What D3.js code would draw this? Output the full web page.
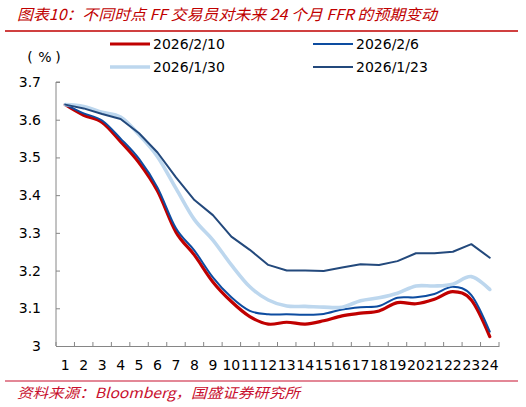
<!DOCTYPE html>
<html>
<head>
<meta charset="utf-8">
<script src="https://cdn.jsdelivr.net/npm/d3@7"></script>
<style>
  body { margin: 0; background: #fff; }
  svg { display: block; }
</style>
</head>
<body>
<div id="chart"></div>
<script>
// months ahead
const months = d3.range(1, 25);

// series values
const s0210 = [3.64, 3.612, 3.593, 3.542, 3.486, 3.411, 3.302, 3.241, 3.170, 3.118, 3.078, 3.058,
               3.063, 3.058, 3.067, 3.080, 3.087, 3.093, 3.115, 3.112, 3.124, 3.144, 3.122, 3.025];
const s0206 = [3.64, 3.617, 3.598, 3.550, 3.496, 3.420, 3.312, 3.253, 3.182, 3.129, 3.093, 3.084,
               3.084, 3.083, 3.085, 3.097, 3.103, 3.106, 3.128, 3.129, 3.138, 3.157, 3.135, 3.038];
const s0130 = [3.64, 3.635, 3.620, 3.607, 3.560, 3.502, 3.418, 3.335, 3.281, 3.215, 3.157, 3.122,
               3.106, 3.105, 3.103, 3.103, 3.120, 3.128, 3.140, 3.159, 3.159, 3.164, 3.184, 3.150];
const s0123 = [3.64, 3.630, 3.615, 3.602, 3.564, 3.513, 3.447, 3.387, 3.347, 3.290, 3.255, 3.215,
               3.200, 3.200, 3.199, 3.208, 3.217, 3.215, 3.225, 3.246, 3.246, 3.250, 3.270, 3.234];

const yTicks = [3, 3.1, 3.2, 3.3, 3.4, 3.5, 3.6, 3.7];

const series = [
  { name: "2026/2/10", values: s0210, color: "#C00000", width: 3.2, smooth: true },
  { name: "2026/2/6",  values: s0206, color: "#0D4CA0", width: 2,   smooth: true },
  { name: "2026/1/30", values: s0130, color: "#BDD7EE", width: 3.6, smooth: true },
  { name: "2026/1/23", values: s0123, color: "#23497C", width: 2,   smooth: false }
];

const W = 526, H = 407;
const svg = d3.select("#chart").append("svg")
  .attr("width", W).attr("height", H);

const font = "'DejaVu Sans', Verdana, sans-serif";
const cjk = "'Noto Sans CJK SC', sans-serif";

// title + rules
svg.append("text")
  .attr("x", 17).attr("y", 20)
  .attr("fill", "#C00000")
  .attr("font-family", cjk)
  .attr("font-size", 15)
  .attr("font-style", "italic")
  .attr("textLength", 420)
  .attr("lengthAdjust", "spacingAndGlyphs")
  .text("图表10：不同时点 FF 交易员对未来 24 个月 FFR 的预期变动");

svg.append("line")
  .attr("x1", 5).attr("x2", 518).attr("y1", 31).attr("y2", 31)
  .attr("stroke", "#C00000").attr("stroke-width", 1.5);

svg.append("line")
  .attr("x1", 5).attr("x2", 518).attr("y1", 381).attr("y2", 381)
  .attr("stroke", "#C8102E").attr("stroke-width", 1.2);

svg.append("text")
  .attr("x", 17).attr("y", 398)
  .attr("fill", "#C8102E")
  .attr("font-family", cjk)
  .attr("font-size", 14)
  .attr("font-style", "italic")
  .attr("textLength", 283)
  .attr("lengthAdjust", "spacingAndGlyphs")
  .text("资料来源：Bloomberg，国盛证券研究所");

// scales
const x = d3.scaleBand().domain(months).range([56, 499]);
const y = d3.scaleLinear().domain([3, 3.7]).range([346, 82]);

// y axis
const yAxis = d3.axisRight(y)
  .tickValues(yTicks)
  .tickSize(4)
  .tickFormat(d3.format("~g"));

const gy = svg.append("g").attr("transform", "translate(56,0)").call(yAxis);
gy.select(".domain").attr("stroke", "#868686").attr("d", "M4,82H0V346");
gy.selectAll(".tick line").attr("stroke", "#868686");
gy.selectAll(".tick text")
  .attr("x", -15).attr("text-anchor", "end")
  .attr("font-family", font).attr("font-size", 14).attr("fill", "#000");

// unit label: full-width brackets spaced apart
svg.append("text")
  .attr("y", 62)
  .attr("font-family", font).attr("font-size", 14)
  .attr("text-anchor", "middle")
  .selectAll("tspan")
  .data([["(", 30], ["%", 45], [")", 58]])
  .join("tspan")
  .attr("x", d => d[1])
  .text(d => d[0]);

// x axis
const xAxis = d3.axisBottom(x).tickSize(0).tickPadding(14);
const gx = svg.append("g").attr("transform", "translate(0,346)").call(xAxis);
gx.select(".domain").attr("stroke", "#868686");
gx.selectAll(".tick text")
  .attr("font-family", font).attr("font-size", 14).attr("fill", "#000");

// tick marks between categories
svg.append("g").selectAll("line")
  .data(months.map(m => x(m)).concat([x.range()[1]]))
  .join("line")
  .attr("x1", d => d).attr("x2", d => d)
  .attr("y1", 346).attr("y2", 342)
  .attr("stroke", "#868686");

// lines
const cx = m => x(m) + x.bandwidth() / 2;
series.forEach(s => {
  const line = d3.line()
    .x((d, i) => cx(months[i]))
    .y(d => y(d))
    .curve(s.smooth ? d3.curveCatmullRom.alpha(0) : d3.curveLinear);
  svg.append("path")
    .datum(s.values)
    .attr("d", line)
    .attr("fill", "none")
    .attr("stroke", s.color)
    .attr("stroke-width", s.width)
    .attr("stroke-linejoin", "round")
    .attr("stroke-linecap", "round");
});

// legend
const legPos = [[110, 44], [313, 44], [110, 67], [313, 67]];
series.forEach((s, i) => {
  const [lx, ly] = legPos[i];
  svg.append("line")
    .attr("x1", lx).attr("x2", lx + 40).attr("y1", ly).attr("y2", ly)
    .attr("stroke", s.color).attr("stroke-width", s.width);
  svg.append("text")
    .attr("x", lx + 43).attr("y", ly + 5)
    .attr("font-family", font).attr("font-size", 14)
    .text(s.name);
});
</script>
</body>
</html>
